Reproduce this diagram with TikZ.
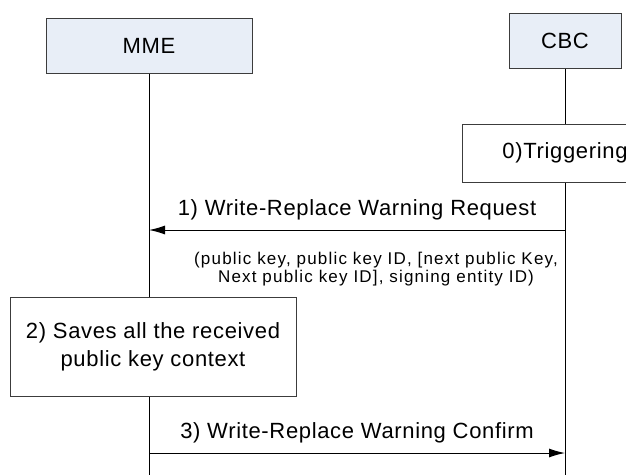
\documentclass[tikz,border=0pt]{standalone}
\usepackage{fontspec}
\setmainfont{Liberation Sans}
\newfontfamily\msgfont[LetterSpace=3]{Liberation Sans}
\newfontfamily\parfont[LetterSpace=7]{Liberation Sans}
\usetikzlibrary{arrows.meta,positioning}
\definecolor{headfill}{HTML}{E8EEF7}
\definecolor{boxline}{HTML}{3C3C3C}
\tikzset{
  head/.style={draw=boxline, fill=headfill, minimum height=55pt, font=\msgfont\fontsize{22}{26}\selectfont},
  actbox/.style={draw=boxline, fill=white, align=center, font=\msgfont\fontsize{22}{28}\selectfont},
  msg/.style={->, line width=1pt},
  msglabel/.style={above=6pt, font=\msgfont\fontsize{22}{26}\selectfont},
  params/.style={align=center, font=\parfont\fontsize{17}{18.5}\selectfont}
}
\begin{document}
\begin{tikzpicture}[x=1pt, y=-1pt, >={Latex[length=16pt,width=9pt]}, line width=1pt]
\useasboundingbox (0,0) rectangle (626,475);
\clip (0,0) rectangle (626,475);

% lifelines
\coordinate (mmeEnd) at (149,475);
\coordinate (cbcEnd) at (565,475);
\draw (149,45) -- (mmeEnd);
\draw (565,40) -- (cbcEnd);

\node[head, minimum width=206pt] (mme) at (149,45.5) {MME};
\node[head, minimum width=112pt] (cbc) at (565,40.5) {CBC};

\node[actbox, minimum width=206pt, minimum height=58pt] (trig) at (565,153) {0)Triggering};

% 1) request
\coordinate (cbc1) at (565,230);
\coordinate (mme1) at (149,230);
\draw[msg] (cbc1) -- node[msglabel] (req) {1) Write-Replace Warning Request} (mme1);
\node[params] (par) at (376,269) {(public key, public key ID, [next public Key,\\Next public key ID], signing entity ID)};

% 2) saves
\node[actbox, minimum width=286pt, minimum height=99pt] (save) at (153,346.5) {2) Saves all the received\\public key context};

% 3) confirm
\coordinate (mme3) at (149,453);
\coordinate (cbc3) at (565,453);
\draw[msg] (mme3) -- node[msglabel] (conf) {3) Write-Replace Warning Confirm} (cbc3);

\end{tikzpicture}
\end{document}
